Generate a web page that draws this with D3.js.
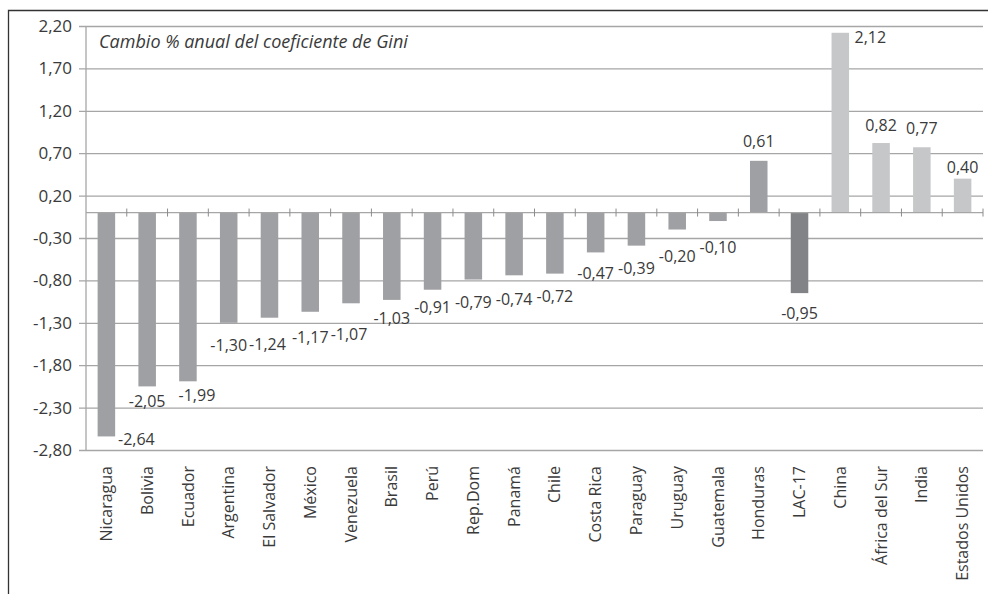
<!DOCTYPE html>
<html>
<head>
<meta charset="utf-8">
<script src="https://cdn.jsdelivr.net/npm/d3@7"></script>
<style>
  body { margin: 0; background: #fff; }
  svg { display: block; font-family: "Open Sans", sans-serif; }
</style>
</head>
<body>
<div id="container"></div>
<script>
const countries = ["Nicaragua","Bolivia","Ecuador","Argentina","El Salvador","México","Venezuela",
                   "Brasil","Perú","Rep.Dom","Panamá","Chile","Costa Rica","Paraguay","Uruguay",
                   "Guatemala","Honduras","LAC-17","China","África del Sur","India","Estados Unidos"]
const gini = [-2.64,-2.05,-1.99,-1.30,-1.24,-1.17,-1.07,-1.03,-0.91,-0.79,-0.74,-0.72,-0.47,
              -0.39,-0.20,-0.10,0.61,-0.95,2.12,0.82,0.77,0.40]
// group: 0 = LAC country, 1 = LAC average, 2 = other regions
const group = [0,0,0,0,0,0,0,0,0,0,0,0,0,0,0,0,0,1,2,2,2,2]
const yTicks = [2.2,1.7,1.2,0.7,0.2,-0.3,-0.8,-1.3,-1.8,-2.3,-2.8]
const title = "Cambio % anual del coeficiente de Gini"

const colors = ["#9fa0a3","#828386","#c6c7c9"]
// small manual nudges of the data labels, like in the original
const labelDx = [30,0,9,0,-2,0,-2,0,0,0,0,0,0,0,0,0,0,0,30,0,0,0]
const labelDy = [3,15,14,23,27,26,31,18,18,23,24,23,21,23,27,26,-19,20,5,-18,-19,-11]

const width = 988, height = 594
const mLeft = 86, mRight = 983, mTop = 26, mBottom = 450

const fmt = v => d3.format(".2f")(v).replace(".", ",").replace("−", "-")

const svg = d3.select("#container").append("svg")
    .attr("width", width)
    .attr("height", height)

// outer frame (top and left only)
svg.append("path")
   .attr("d", `M8.5,${height} V10.5 H${width}`)
   .attr("fill","none")
   .attr("stroke","#333")
   .attr("stroke-width",1.3)

const x = d3.scaleBand()
    .domain(countries)
    .range([mLeft, mRight])
    .paddingInner(0.57)
    .paddingOuter(0.285)

const y = d3.scaleLinear()
    .domain([-2.8, 2.2])
    .range([mBottom, mTop])

// gridlines + y axis
const yAxis = d3.axisLeft(y)
    .tickValues(yTicks)
    .tickSize(-(mRight - mLeft))
    .tickPadding(14)
    .tickFormat(fmt)

const gy = svg.append("g")
    .attr("transform", `translate(${mLeft},0)`)
    .call(yAxis)
gy.select(".domain").remove()
gy.selectAll(".tick line")
  .attr("x1", -7)
  .attr("stroke", "#a6a6a6")
  .attr("stroke-width", 1.3)
gy.selectAll(".tick text")
  .attr("font-size", 17)
  .attr("fill", "#3a3a3a")
  .attr("font-family", "Open Sans")

svg.append("line")
   .attr("x1", mLeft).attr("x2", mLeft)
   .attr("y1", mTop).attr("y2", mBottom)
   .attr("stroke", "#a6a6a6")
   .attr("stroke-width", 1.3)

// bars
svg.selectAll("rect.bar")
   .data(countries)
   .enter()
   .append("rect")
   .attr("class","bar")
   .attr("x", d => x(d))
   .attr("width", x.bandwidth())
   .attr("y", (d,i) => y(Math.max(0, gini[i])))
   .attr("height", (d,i) => Math.abs(y(gini[i]) - y(0)))
   .attr("fill", (d,i) => colors[group[i]])

// zero axis with category ticks
svg.append("line")
   .attr("x1", mLeft).attr("x2", mRight)
   .attr("y1", y(0)).attr("y2", y(0))
   .attr("stroke", "#a6a6a6")
   .attr("stroke-width", 1.3)

const step = x.step()
svg.selectAll("line.cat")
   .data(d3.range(1, countries.length + 1))
   .enter()
   .append("line")
   .attr("class","cat")
   .attr("x1", i => mLeft + i * step)
   .attr("x2", i => mLeft + i * step)
   .attr("y1", y(0) - 4)
   .attr("y2", y(0) + 4)
   .attr("stroke", "#8c8c8c")
   .attr("stroke-width", 1)

// value labels
svg.selectAll("text.val")
   .data(countries)
   .enter()
   .append("text")
   .attr("class","val")
   .attr("x", (d,i) => x(d) + x.bandwidth()/2 + labelDx[i])
   .attr("y", (d,i) => y(gini[i]) + labelDy[i])
   .attr("dy", "0.35em")
   .attr("text-anchor","middle")
   .attr("font-size", 16)
   .attr("fill", "#3a3a3a")
   .text((d,i) => fmt(gini[i]))

// category labels
svg.selectAll("text.cat")
   .data(countries)
   .enter()
   .append("text")
   .attr("class","cat")
   .attr("transform", d => `translate(${x(d) + x.bandwidth()/2},${mBottom + 16}) rotate(-90)`)
   .attr("dy","0.35em")
   .attr("text-anchor","end")
   .attr("font-size", 16)
   .attr("fill", "#3a3a3a")
   .text(d => d)

// title inside plot
svg.append("text")
   .attr("x", 99)
   .attr("y", 48)
   .attr("font-size", 18)
   .attr("font-style", "italic")
   .attr("fill", "#3a3a3a")
   .text(title)
</script>
</body>
</html>
